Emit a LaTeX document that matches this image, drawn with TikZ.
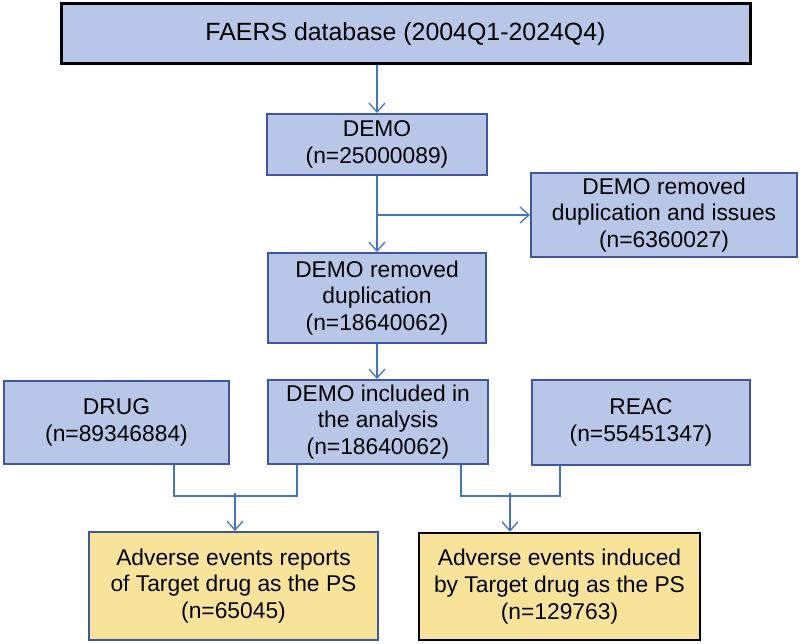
\documentclass[tikz,border=0pt]{standalone}
\usepackage{fontspec}
\setmainfont{Liberation Sans}
\usetikzlibrary{arrows.meta}
\definecolor{boxblue}{RGB}{184,198,232}
\definecolor{edgeblue}{RGB}{63,87,163}
\definecolor{boxyellow}{RGB}{248,228,153}
\definecolor{lineblue}{RGB}{68,114,196}
\tikzset{bluebox/.style = {draw=edgeblue, fill=boxblue, line width=2pt, rectangle, inner sep=0pt, align=center,
                           font=\fontsize{22.8}{26.7}\selectfont},
         yellowbox/.style = {bluebox, fill=boxyellow},
         flow/.style = {draw=lineblue, line width=1.3pt},
         tip/.style = {flow, -{Straight Barb[length=9pt,width=16pt,line width=1.3pt]}}}

\begin{document}
\begin{tikzpicture}[x=1pt,y=-1pt]
        \useasboundingbox(0,0)rectangle(802,644);
        \node[bluebox, draw=black, line width=3pt, minimum width=689pt, minimum height=60pt,
              font=\fontsize{24.9}{28}\selectfont](faers)at(405.5,34){FAERS database (2004Q1-2024Q4)};
        \node[bluebox, minimum width=220pt, minimum height=61pt](demo)at(377,144.5){DEMO\\(n=25000089)};
        \node[bluebox, minimum width=266pt, minimum height=84pt](issues)at(664,215){DEMO removed\\duplication and issues\\(n=6360027)};
        \node[bluebox, minimum width=218pt, minimum height=90pt](dedup)at(377,298){DEMO removed\\duplication\\(n=18640062)};
        \node[bluebox, minimum width=225pt, minimum height=83pt](drug)at(116.5,422.5){DRUG\\(n=89346884)};
        \node[bluebox, minimum width=220pt, minimum height=84pt](incl)at(378,422){DEMO included in\\the analysis\\(n=18640062)};
        \node[bluebox, minimum width=218pt, minimum height=85pt](reac)at(641,422.5){REAC\\(n=55451347)};
        \node[yellowbox, minimum width=289pt, minimum height=108pt](aeps)at(233.5,586){Adverse events reports\\of Target drug as the PS\\(n=65045)};
        \node[yellowbox, draw=black, line width=2.5pt, minimum width=281pt, minimum height=107pt](aeind)at(559.5,586.5){Adverse events induced\\by Target drug as the PS\\(n=129763)};
        % junctions
        \coordinate(split)at(377,215);
        \coordinate(jl)at(235,496);
        \coordinate(jr)at(510,496);
        \draw[tip](faers.south -| demo)--(demo.north);
        \draw[tip](demo.south)--(dedup.north);
        \draw[tip](split)--(issues.west);
        \draw[tip](dedup.south)--(incl.north -| dedup);
        \draw[flow](drug.south -| 174,0)|-(jl)-|(incl.south -| 297,0);
        \draw[flow](incl.south -| 461,0)|-(jr)-|(reac.south -| 560,0);
        \draw[tip]([yshift=3pt]jl)--(aeps.north -| jl);
        \draw[tip]([yshift=3pt]jr)--(aeind.north -| jr);
    \end{tikzpicture}
\end{document}
